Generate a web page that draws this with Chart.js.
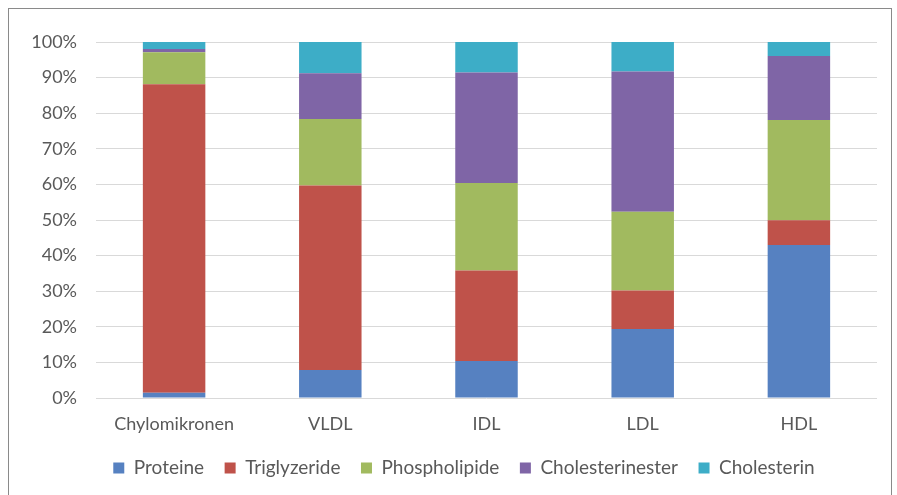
<!DOCTYPE html>
<html>
<head>
<meta charset="utf-8">
<script src="https://cdn.jsdelivr.net/npm/chart.js@4/dist/chart.umd.min.js"></script>
<style>
  html, body { margin: 0; padding: 0; background: #fff; overflow: hidden; }
  #wrap { position: relative; width: 897px; height: 495px; }
  #frame { position: absolute; left: 8px; top: 8px; width: 884px; height: 500px; border: 1px solid #8a8a8a; box-sizing: border-box; pointer-events: none; }
  canvas { position: absolute; left: 0; top: 0; }
</style>
</head>
<body>
<div id="wrap">
  <canvas id="c" width="897" height="495"></canvas>
  <div id="frame"></div>
</div>
<script>
// Lipoprotein composition (percent of particle mass)
const categories = ['Chylomikronen', 'VLDL', 'IDL', 'LDL', 'HDL'];
const proteine         = [1.5, 7.9, 10.4, 19.4, 43.0];
const triglyzeride     = [86.6, 51.8, 25.4, 10.8, 6.9];
const phospholipide    = [9.0, 18.7, 24.6, 22.1, 28.2];
const cholesterinester = [0.9, 12.8, 31.0, 39.4, 18.0];
const cholesterin      = [2.0, 8.8, 8.6, 8.3, 3.9];
const yTicks = [0, 10, 20, 30, 40, 50, 60, 70, 80, 90, 100];

const FONT = 'Lato, "Open Sans", sans-serif';
const TEXT = '#595959';

const series = [
  { label: 'Proteine', data: proteine, color: '#5681c1' },
  { label: 'Triglyzeride', data: triglyzeride, color: '#bf524a' },
  { label: 'Phospholipide', data: phospholipide, color: '#a1ba5f' },
  { label: 'Cholesterinester', data: cholesterinester, color: '#7f65a6' },
  { label: 'Cholesterin', data: cholesterin, color: '#3dadc7' }
];

// Shift the legend row a little to the right of the canvas centre
const legendShift = {
  id: 'legendShift',
  afterLayout(chart) {
    const lg = chart.legend;
    if (lg) { lg.left += 25.5; lg.right += 25.5; }
  }
};

new Chart(document.getElementById('c'), {
  type: 'bar',
  data: {
    labels: categories,
    datasets: series.map(s => ({
      label: s.label,
      data: s.data,
      backgroundColor: s.color,
      borderWidth: 0,
      barPercentage: 0.4,
      categoryPercentage: 1.0
    }))
  },
  plugins: [legendShift],
  options: {
    responsive: false,
    animation: false,
    layout: { padding: { left: 0, right: 20, top: 42, bottom: 7.5 } },
    plugins: {
      tooltip: { enabled: false },
      legend: {
        position: 'bottom',
        labels: {
          boxWidth: 11,
          boxHeight: 11,
          padding: 20.5,
          color: TEXT,
          font: { family: FONT, size: 19 }
        }
      }
    },
    scales: {
      x: {
        stacked: true,
        grid: { display: false },
        border: { display: false },
        ticks: { color: TEXT, padding: 7, font: { family: FONT, size: 18 } },
        afterFit: s => { s.height = 40; }
      },
      y: {
        stacked: true,
        min: 0,
        max: 100,
        afterBuildTicks: s => { s.ticks = yTicks.map(v => ({ value: v })); },
        grid: { color: '#d9d9d9', lineWidth: 1, drawTicks: false },
        border: { display: false },
        ticks: {
          color: TEXT,
          padding: 19,
          font: { family: FONT, size: 18 },
          callback: v => v + '%'
        },
        afterFit: s => { s.width = 96; }
      }
    }
  }
});
</script>
</body>
</html>
